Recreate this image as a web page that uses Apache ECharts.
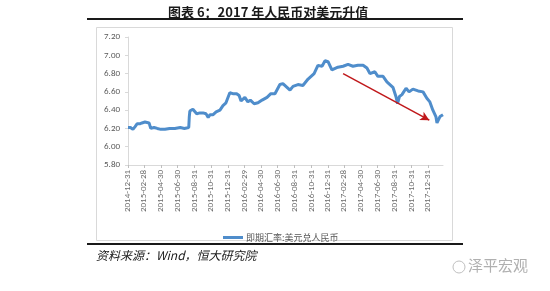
<!DOCTYPE html>
<html><head><meta charset="utf-8">
<script src="https://cdn.jsdelivr.net/npm/echarts@6/dist/echarts.min.js"></script>
<style>html,body{margin:0;padding:0;background:#fff;}#c{width:550px;height:291px;}</style>
</head><body><div id="c"></div>
<script>
var titleText = '图表 6：2017 年人民币对美元升值';
var sourceText = '资料来源：Wind，恒大研究院';
var watermarkText = '泽平宏观';
var seriesName = '即期汇率:美元兑人民币';

var dates = [
'2014-12-31','2015-01-09','2015-01-18','2015-01-26','2015-02-02','2015-02-12','2015-02-20','2015-03-03','2015-03-10','2015-03-18',
'2015-03-24','2015-04-05','2015-04-17','2015-04-30','2015-05-15','2015-06-01','2015-06-20','2015-07-10','2015-07-25','2015-08-10',
'2015-08-12','2015-08-14','2015-08-25','2015-09-08','2015-09-20','2015-10-01','2015-10-12','2015-10-20','2015-10-27','2015-11-07',
'2015-11-18','2015-12-02','2015-12-13','2015-12-24','2015-12-31','2016-01-07','2016-01-18','2016-02-01','2016-02-10','2016-02-17',
'2016-03-02','2016-03-13','2016-03-22','2016-04-05','2016-04-19','2016-05-04','2016-05-22','2016-06-05','2016-06-20','2016-07-08',
'2016-07-19','2016-08-03','2016-08-14','2016-08-25','2016-09-12','2016-09-30','2016-10-19','2016-10-30','2016-11-10','2016-11-24',
'2016-12-09','2016-12-20','2016-12-31','2017-01-07','2017-01-14','2017-01-18','2017-02-05','2017-02-24','2017-03-14','2017-04-01',
'2017-04-19','2017-05-08','2017-05-22','2017-06-02','2017-06-20','2017-07-01','2017-07-20','2017-08-03','2017-08-14','2017-08-25',
'2017-09-05','2017-09-11','2017-09-18','2017-09-27','2017-10-12','2017-10-23','2017-11-06','2017-11-25','2017-12-13','2017-12-27',
'2018-01-07','2018-01-18','2018-01-29','2018-02-02','2018-02-13','2018-02-24'
];
var rates = [
6.21,6.21,6.19,6.22,6.25,6.25,6.26,6.27,6.27,6.26,
6.20,6.21,6.20,6.19,6.19,6.20,6.20,6.21,6.20,6.21,
6.33,6.39,6.41,6.36,6.37,6.37,6.36,6.32,6.35,6.35,
6.38,6.40,6.45,6.48,6.49,6.59,6.58,6.58,6.56,6.50,
6.54,6.49,6.51,6.47,6.48,6.51,6.54,6.58,6.58,6.68,
6.69,6.65,6.62,6.66,6.68,6.67,6.74,6.77,6.80,6.89,
6.88,6.94,6.93,6.91,6.84,6.85,6.87,6.88,6.90,6.88,
6.89,6.89,6.86,6.80,6.82,6.77,6.77,6.71,6.68,6.65,
6.55,6.47,6.55,6.57,6.64,6.60,6.63,6.61,6.60,6.53,
6.49,6.40,6.33,6.26,6.33,6.35
];
var tickDates = ['2014-12-31','2015-02-28','2015-04-30','2015-06-30','2015-08-31','2015-10-31','2015-12-31','2016-02-29','2016-04-30','2016-06-30','2016-08-31','2016-10-31','2016-12-31','2017-02-28','2017-04-30','2017-06-30','2017-08-31','2017-10-31','2017-12-31'];
var yMin = 5.80, yMax = 7.20, yStep = 0.20;
var arrowFrom = ['2017-02-24', 6.80];
var arrowTo = ['2018-01-05', 6.29];

function toTime(s){ var p = s.split('-'); return Date.UTC(+p[0], +p[1]-1, +p[2]); }
function fmt(t){ var d = new Date(t); var m = d.getUTCMonth()+1, dd = d.getUTCDate(); return d.getUTCFullYear()+'-'+(m<10?'0':'')+m+'-'+(dd<10?'0':'')+dd; }

var chart = echarts.init(document.getElementById('c'), null, {renderer:'canvas'});
var font = 'Carlito, "Liberation Sans", "Noto Sans CJK SC", sans-serif';
var cjk = '"Noto Sans CJK SC", sans-serif';
var tickTimes = tickDates.map(toTime);

chart.setOption({
  animation:false,
  backgroundColor:'#fff',
  title:{text:titleText, left:163, top:1, textStyle:{fontFamily:cjk, fontSize:13, fontWeight:'bold', color:'#1a1a1a'}},
  legend:{data:[seriesName], left:218, top:228, icon:'rect', itemWidth:20, itemHeight:3, itemGap:4,
    textStyle:{fontFamily:cjk, fontSize:9, color:'#595959', padding:[0,0,0,-2]}},
  grid:{left:128, right:107, top:37, bottom:126, containLabel:false},
  xAxis:{type:'value', min:toTime(dates[0]), max:toTime(dates[dates.length-1]), scale:true,
    axisLine:{lineStyle:{color:'#d9d9d9', width:1}},
    axisTick:{show:true, customValues:tickTimes, length:3, lineStyle:{color:'#bfbfbf'}},
    axisLabel:{customValues:tickTimes, rotate:90, fontSize:9, color:'#6b6b6b', fontFamily:font, margin:5,
      formatter:function(v){return fmt(v);}},
    splitLine:{show:false}
  },
  yAxis:{type:'value', min:yMin, max:yMax, interval:yStep,
    axisLine:{show:true, lineStyle:{color:'#d9d9d9'}},
    axisTick:{show:true, length:3, lineStyle:{color:'#d9d9d9'}},
    axisLabel:{fontSize:9, color:'#595959', fontFamily:font, margin:8, formatter:function(v){return v.toFixed(2);}},
    splitLine:{show:false}
  },
  series:[{
    name:seriesName, type:'line', showSymbol:false, symbol:'none',
    data:dates.map(function(d,i){return [toTime(d), rates[i]];}),
    lineStyle:{color:'#4f8dcb', width:3}, itemStyle:{color:'#4f8dcb'},
    markLine:{silent:true, symbol:['none','arrow'], symbolSize:[7,9], label:{show:false},
      lineStyle:{color:'#c0181b', width:1.5, type:'solid'},
      data:[[{coord:[toTime(arrowFrom[0]), arrowFrom[1]]},{coord:[toTime(arrowTo[0]), arrowTo[1]]}]]}
  }],
  graphic:[
    {type:'rect', shape:{x:96.5, y:27.5, width:356, height:213}, style:{fill:'none', stroke:'#d9d9d9', lineWidth:1}, z:-1},
    {type:'line', shape:{x1:87, y1:19, x2:463, y2:19}, style:{stroke:'#1a1a1a', lineWidth:2}},
    {type:'line', shape:{x1:87, y1:244, x2:463, y2:244}, style:{stroke:'#1a1a1a', lineWidth:2}},
    {type:'text', left:96, top:249, style:{text:sourceText, font:'italic 12px "Noto Sans CJK SC", sans-serif', fill:'#1a1a1a'}},
    {type:'text', left:468, top:258, style:{text:watermarkText, font:'15px "Noto Sans CJK SC", sans-serif', fill:'#b0b0b0'}},
    {type:'circle', shape:{cx:459, cy:267, r:6}, style:{fill:'none', stroke:'#c0c0c0', lineWidth:1}}
  ]
});
</script>
</body></html>
